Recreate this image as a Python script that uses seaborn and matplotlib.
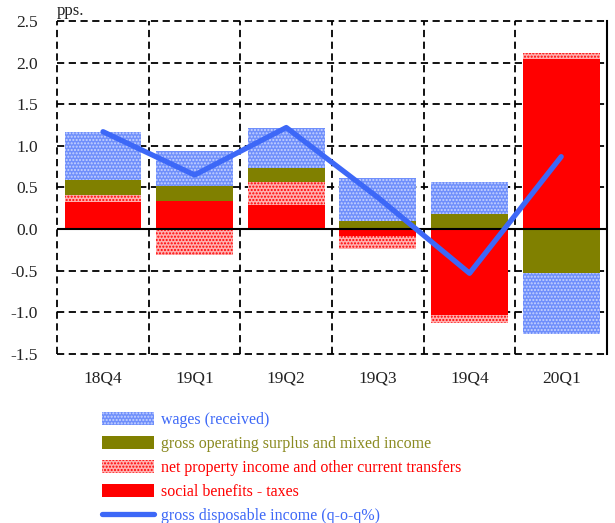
import numpy as np
import matplotlib
matplotlib.use("Agg")
import matplotlib.pyplot as plt
import seaborn as sns
from matplotlib.patches import Patch
from matplotlib.lines import Line2D

sns.set_theme(style="white")
plt.rcParams['font.family'] = ['Liberation Serif', 'DejaVu Serif']
plt.rcParams['hatch.linewidth'] = 1.0

# Data (pps.)
quarters = ['18Q4', '19Q1', '19Q2', '19Q3', '19Q4', '20Q1']
wages = [0.58, 0.42, 0.47, 0.51, 0.38, -0.73]
gos = [0.18, 0.18, 0.18, 0.10, 0.18, -0.53]
net_prop = [0.09, -0.31, 0.27, -0.16, -0.10, 0.08]
social = [0.32, 0.34, 0.29, -0.08, -1.03, 2.04]
gdi = [1.17, 0.65, 1.22, 0.38, -0.53, 0.87]

labels = ['wages (received)',
          'gross operating surplus and mixed income',
          'net property income and other current transfers',
          'social benefits - taxes',
          'gross disposable income (q-o-q%)']

blue = '#6f8ffb'
olive = '#808000'
red = '#ff0000'
pink = '#ffb0b0'
line_blue = '#3d68f7'

fig = plt.figure(figsize=(6.15, 5.23), dpi=100)
ax = fig.add_axes([0.093, 0.323, 0.894, 0.637])

# stacking order from zero outwards: social, net property, gos, wages
stack = [
    (social, dict(color=red)),
    (net_prop, dict(color=pink, edgecolor=red, hatch='.....')),
    (gos, dict(color=olive)),
    (wages, dict(color=blue, edgecolor='#c8d4ff', hatch='.....')),
]
# cumulative ends (positive and negative stacked separately)
pos_base = np.zeros(len(quarters))
neg_base = np.zeros(len(quarters))
ends = []
for vals, style in stack:
    vals = np.array(vals)
    pos_base = pos_base + np.where(vals >= 0, vals, 0)
    neg_base = neg_base + np.where(vals < 0, vals, 0)
    ends.append(np.where(vals >= 0, pos_base, neg_base))

# draw outermost first so inner segments overlay
for (vals, style), end in reversed(list(zip(stack, ends))):
    sns.barplot(x=quarters, y=end, width=0.84, ax=ax, saturation=1,
                linewidth=0, zorder=2, **style)

sns.lineplot(x=np.arange(len(quarters)), y=gdi, ax=ax, color=line_blue,
             linewidth=3.8, zorder=4, solid_capstyle='round')

# grid
dash = (0, (4, 2.5))
for yv in np.arange(-1.5, 2.51, 0.5):
    if abs(yv) < 1e-9:
        continue
    ax.axhline(yv, color='black', linestyle=dash, linewidth=1.3, zorder=1,
               clip_on=False)
for xv in np.arange(-0.5, 5.0, 1.0):
    ax.axvline(xv, color='black', linestyle=dash, linewidth=1.3, zorder=1,
               clip_on=False)
ax.axhline(0, color='black', linewidth=1.5, zorder=3)

ax.set_xlim(-0.5, 5.5)
ax.set_ylim(-1.5, 2.5)
ax.set_yticks(np.arange(-1.5, 2.51, 0.5))
ax.set_yticklabels([f'{v:.1f}' for v in np.arange(-1.5, 2.51, 0.5)])
for s in ['left', 'top', 'bottom']:
    ax.spines[s].set_visible(False)
ax.spines['right'].set_color('black')
ax.spines['right'].set_linewidth(1.5)
ax.tick_params(axis='y', length=0, pad=14, labelsize=12.5, labelcolor='#222222')
ax.tick_params(axis='x', length=0, pad=12, labelsize=12.5, labelcolor='#222222')
ax.set_xlabel('')
ax.set_ylabel('')
ax.text(0.0, 1.005, 'pps.', transform=ax.transAxes, ha='left', va='bottom',
        fontsize=12, color='#222222')

handles = [
    Patch(facecolor=blue, edgecolor='#c8d4ff', hatch='.....', linewidth=0),
    Patch(facecolor=olive, linewidth=0),
    Patch(facecolor=pink, edgecolor=red, hatch='.....', linewidth=0),
    Patch(facecolor=red, linewidth=0),
    Line2D([0], [0], color=line_blue, linewidth=3.8, solid_capstyle='round'),
]
leg = fig.legend(handles, labels, loc='upper left', bbox_to_anchor=(0.155, 0.225),
                 frameon=False, fontsize=11.5, handlelength=3.3, handleheight=0.9,
                 labelspacing=0.5, handletextpad=0.4, borderaxespad=0)
text_colors = [line_blue, '#8a8a20', red, red, line_blue]
for t, c in zip(leg.get_texts(), text_colors):
    t.set_color(c)

fig.savefig('out.png', dpi=100)
